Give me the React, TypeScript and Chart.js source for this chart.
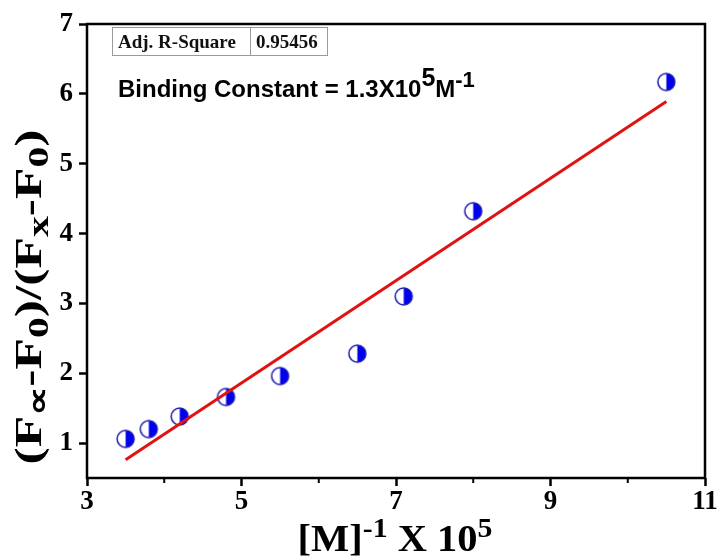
import React, { useEffect, useRef } from "react";
import { Chart, registerables } from "chart.js";
Chart.register(...registerables);

// ---- data ----
const xValues = [3.5, 3.8, 4.2, 4.8, 5.5, 6.5, 7.1, 8.0, 10.5];
const yValues = [1.06, 1.2, 1.38, 1.66, 1.96, 2.28, 3.1, 4.32, 6.17];
const fitX = [3.5, 10.5];
const fitY = [0.76, 5.89];
const xTicks = [3, 5, 7, 9, 11];
const xMinorTicks = [4, 6, 8, 10];
const yTicks = [1, 2, 3, 4, 5, 6, 7];
const adjLabel = "Adj. R-Square";
const adjRSquare = "0.95456";

type Seg = { t: string; size: number; dy: number };

const SERIF = '"Liberation Serif", "Times New Roman", serif';
const SANS = '"Liberation Sans", Arial, sans-serif';

function drawRich(
  ctx: CanvasRenderingContext2D,
  segs: Seg[],
  x: number,
  y: number,
  family: string,
  align: "left" | "center",
  targetWidth?: number
) {
  let total = 0;
  const widths = segs.map((s) => {
    ctx.font = `bold ${s.size}px ${family}`;
    const w = ctx.measureText(s.t).width;
    total += w;
    return w;
  });
  const sx = targetWidth ? targetWidth / total : 1;
  ctx.save();
  ctx.translate(x, y);
  ctx.scale(sx, 1);
  let cx = align === "center" ? -total / 2 : 0;
  ctx.textBaseline = "alphabetic";
  ctx.textAlign = "left";
  segs.forEach((s, i) => {
    ctx.font = `bold ${s.size}px ${family}`;
    ctx.fillText(s.t, cx, s.dy);
    cx += widths[i];
  });
  ctx.restore();
}

function makeMarker(r: number) {
  const c = document.createElement("canvas");
  const size = Math.ceil(2 * r + 4);
  c.width = size;
  c.height = size;
  const ctx = c.getContext("2d")!;
  const m = size / 2;
  ctx.beginPath();
  ctx.arc(m, m, r, 0, Math.PI * 2);
  ctx.fillStyle = "#ffffff";
  ctx.fill();
  ctx.beginPath();
  ctx.moveTo(m, m - r);
  ctx.arc(m, m, r, -Math.PI / 2, Math.PI / 2);
  ctx.closePath();
  ctx.fillStyle = "#0000f0";
  ctx.fill();
  ctx.beginPath();
  ctx.arc(m, m, r, 0, Math.PI * 2);
  ctx.strokeStyle = "#1a1ab0";
  ctx.lineWidth = 1.5;
  ctx.stroke();
  return c;
}

export default function App() {
  const ref = useRef<HTMLCanvasElement>(null);

  useEffect(() => {
    const canvas = ref.current!;
    const marker = makeMarker(8.5);

    const deco = {
      id: "deco",
      afterDraw(chart: any) {
        const ctx: CanvasRenderingContext2D = chart.ctx;
        const a = chart.chartArea;
        const xs = chart.scales.x;
        ctx.save();
        // frame
        ctx.strokeStyle = "#000";
        ctx.lineWidth = 2.5;
        ctx.strokeRect(a.left, a.top, a.right - a.left, a.bottom - a.top);
        // minor ticks on x
        ctx.lineWidth = 2;
        xMinorTicks.forEach((v) => {
          const px = xs.getPixelForValue(v);
          ctx.beginPath();
          ctx.moveTo(px, a.bottom);
          ctx.lineTo(px, a.bottom + 5);
          ctx.stroke();
        });

        // statistics table
        const bx = a.left + 25;
        const by = a.top + 3;
        ctx.fillStyle = "#ffffff";
        ctx.fillRect(bx, by, 216, 29);
        ctx.strokeStyle = "#9a9a9a";
        ctx.lineWidth = 1;
        ctx.strokeRect(bx + 0.5, by + 0.5, 215, 28);
        ctx.beginPath();
        ctx.moveTo(bx + 138.5, by);
        ctx.lineTo(bx + 138.5, by + 29);
        ctx.stroke();
        ctx.fillStyle = "#111";
        ctx.font = `bold 19px ${SERIF}`;
        ctx.textBaseline = "alphabetic";
        ctx.textAlign = "left";
        ctx.fillText(adjLabel, bx + 6, by + 21);
        ctx.fillText(adjRSquare, bx + 144, by + 21);

        // binding constant
        ctx.fillStyle = "#000";
        drawRich(
          ctx,
          [
            { t: "Binding Constant = 1.3X10", size: 24, dy: 0 },
            { t: "5", size: 25, dy: -11 },
            { t: "M", size: 24, dy: 0 },
            { t: "-1", size: 22, dy: -10 },
          ],
          a.left + 31,
          97,
          SANS,
          "left"
        );

        // x axis title
        drawRich(
          ctx,
          [
            { t: "[M]", size: 38, dy: 0 },
            { t: "-1", size: 28, dy: -14 },
            { t: " X 10", size: 38, dy: 0 },
            { t: "5", size: 28, dy: -14 },
          ],
          395,
          551,
          SERIF,
          "center",
          195
        );

        // y axis title
        ctx.save();
        ctx.translate(41, 297);
        ctx.rotate(-Math.PI / 2);
        drawRich(
          ctx,
          [
            { t: "(F", size: 37, dy: 0 },
            { t: "\u221D", size: 30, dy: 7 },
            { t: "-F", size: 37, dy: 0 },
            { t: "0", size: 30, dy: 7 },
            { t: ")/(F", size: 37, dy: 0 },
            { t: "x", size: 30, dy: 7 },
            { t: "-F", size: 37, dy: 0 },
            { t: "0", size: 30, dy: 7 },
            { t: ")", size: 37, dy: 0 },
          ],
          0,
          0,
          SERIF,
          "center",
          335
        );
        ctx.restore();

        ctx.restore();
      },
    };

    const tickFont = { family: SERIF, size: 27, weight: "bold" as const };

    const chart = new Chart(canvas, {
      type: "scatter",
      data: {
        datasets: [
          {
            data: fitX.map((x, i) => ({ x, y: fitY[i] })),
            showLine: true,
            borderColor: "#e01212",
            borderWidth: 3,
            pointRadius: 0,
            fill: false,
          },
          {
            data: xValues.map((x, i) => ({ x, y: yValues[i] })),
            pointStyle: marker as any,
            pointRadius: 8.5,
            showLine: false,
          },
        ],
      },
      options: {
        animation: false,
        responsive: false,
        layout: { padding: { left: 0, right: 12, top: 24, bottom: 0 } },
        plugins: { legend: { display: false }, tooltip: { enabled: false } },
        scales: {
          x: {
            type: "linear",
            min: 3,
            max: 11,
            afterBuildTicks: (s: any) => {
              s.ticks = xTicks.map((v) => ({ value: v }));
            },
            afterFit: (s: any) => {
              s.height = 81;
              s.paddingLeft = 0;
              s.paddingRight = 0;
            },
            grid: {
              drawOnChartArea: false,
              drawTicks: true,
              tickLength: 8,
              tickWidth: 2.5,
              color: "#000",
            },
            border: { display: false },
            ticks: {
              color: "#000",
              font: tickFont,
              padding: 0,
              maxRotation: 0,
              autoSkip: false,
            },
          },
          y: {
            type: "linear",
            min: 0.5,
            max: 7,
            afterBuildTicks: (s: any) => {
              s.ticks = yTicks.map((v) => ({ value: v }));
            },
            afterFit: (s: any) => {
              s.width = 87;
              s.paddingTop = 0;
              s.paddingBottom = 0;
            },
            grid: {
              drawOnChartArea: false,
              drawTicks: true,
              tickLength: 8,
              tickWidth: 2.5,
              color: "#000",
            },
            border: { display: false },
            ticks: {
              color: "#000",
              font: tickFont,
              padding: 6,
              autoSkip: false,
            },
          },
        },
      },
      plugins: [deco],
    });
    return () => chart.destroy();
  }, []);

  return (
    <div
      style={{
        position: "fixed",
        left: 0,
        top: 0,
        width: 717,
        height: 559,
        background: "#fff",
      }}
    >
      <canvas ref={ref} width={717} height={559} style={{ width: 717, height: 559 }} />
    </div>
  );
}
